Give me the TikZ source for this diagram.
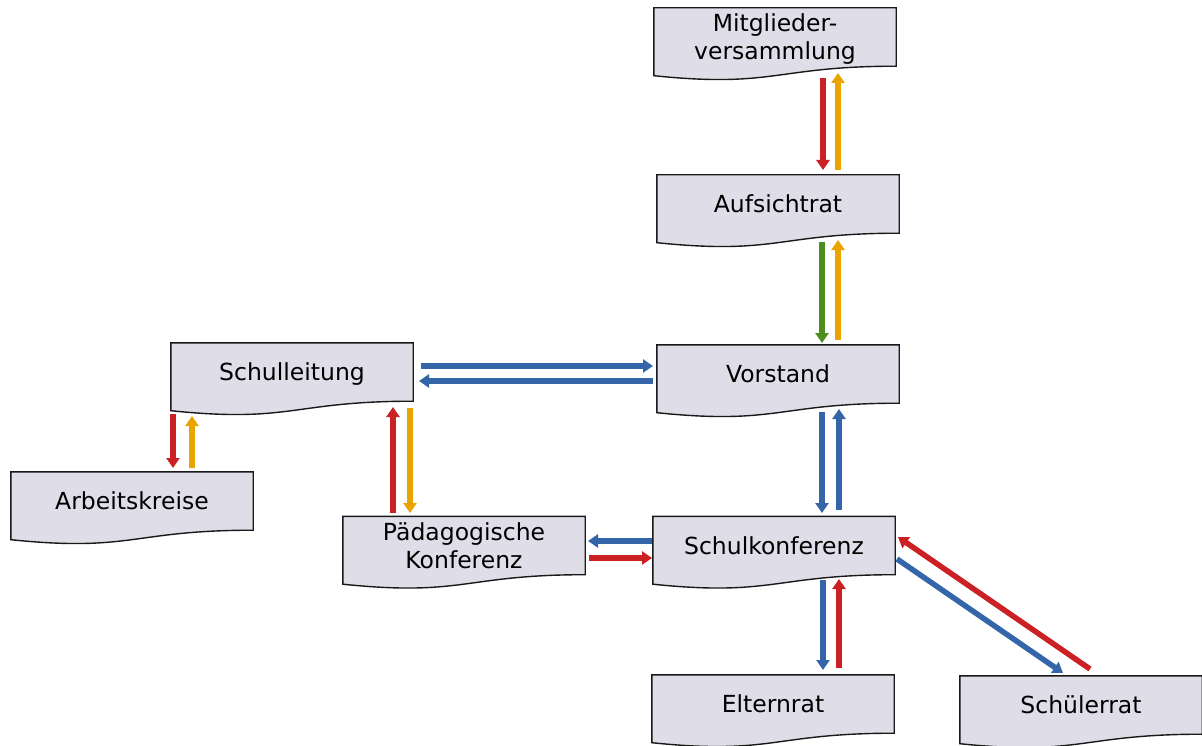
\documentclass[tikz,border=0pt]{standalone}
\usepackage{fontspec}
\setmainfont{DejaVu Sans}
\usetikzlibrary{arrows.meta,backgrounds}
\definecolor{boxfill}{RGB}{222,221,232}
\definecolor{boxline}{RGB}{25,25,25}
\definecolor{cred}{RGB}{203,32,36}
\definecolor{corange}{RGB}{234,164,0}
\definecolor{cgreen}{RGB}{78,142,28}
\definecolor{cblue}{RGB}{52,101,168}
\tikzset{
  docnode/.style={rectangle, draw=none, minimum width=242pt, minimum height=58pt,
    inner sep=0pt, font=\fontsize{23.5}{28}\selectfont, text height=17pt, text depth=0pt},
  docnodetwo/.style={docnode, align=center, text height=45pt, text depth=0pt},
  docline/.style={draw=boxline, fill=boxfill, line width=1.4pt, line join=miter},
  conn/.style={line width=5.5pt, -{Triangle[width=13pt,length=10pt]}},
  redc/.style={conn, draw=cred, fill=cred},
  orangec/.style={conn, draw=corange, fill=corange},
  greenc/.style={conn, draw=cgreen, fill=cgreen},
  bluec/.style={conn, draw=cblue, fill=cblue}
}
\newcommand\docshape[1]{%
  \filldraw[docline] (#1.north west) -- (#1.north east) -- (#1.south east)
    .. controls (#1.south) and ([yshift=-22pt]#1.south) .. ([yshift=-9.5pt]#1.south west) -- cycle;}
\begin{document}
\begin{tikzpicture}[x=1pt,y=-1pt]
\useasboundingbox (0,0) rectangle (1202,746);
% nodes
\node[docnodetwo] (M)  at (775,37)    {Mitglieder-\\versammlung};
\node[docnode]    (A)  at (778,204)   {Aufsichtrat};
\node[docnode]    (V)  at (778,374)   {Vorstand};
\node[docnode]    (SL) at (292,372)   {Schulleitung};
\node[docnode]    (AK) at (132,501)   {Arbeitskreise};
\node[docnodetwo] (PK) at (464,545.5) {Pädagogische\\Konferenz};
\node[docnode]    (SK) at (774,545.5) {Schulkonferenz};
\node[docnode]    (E)  at (773,704)   {Elternrat};
\node[docnode]    (SR) at (1081,705)  {Schülerrat};
\begin{scope}[on background layer]
\docshape{M}\docshape{A}\docshape{V}\docshape{SL}\docshape{AK}
\docshape{PK}\docshape{SK}\docshape{E}\docshape{SR}
\end{scope}
% connectors
\draw[redc]    ([shift={(48,41)}]M.center)     -- ([shift={(45,-34)}]A.center);
\draw[orangec] ([shift={(60,-34)}]A.center)    -- ([shift={(63,36)}]M.center);
\draw[greenc]  ([shift={(44,38)}]A.center)     -- ([shift={(44,-31)}]V.center);
\draw[orangec] ([shift={(60,-34)}]V.center)    -- ([shift={(60,36)}]A.center);
\draw[bluec]   ([shift={(129,-6)}]SL.center)   -- ([shift={(-125,-8)}]V.center);
\draw[bluec]   ([shift={(-125,7)}]V.center)    -- ([shift={(127,9)}]SL.center);
\draw[redc]    ([shift={(-119,42)}]SL.center)  -- ([shift={(41,-33)}]AK.center);
\draw[orangec] ([shift={(60,-33)}]AK.center)   -- ([shift={(-100,44)}]SL.center);
\draw[redc]    ([shift={(-71,-32.5)}]PK.center) -- ([shift={(101,35)}]SL.center);
\draw[orangec] ([shift={(118,36)}]SL.center)   -- ([shift={(-54,-32.5)}]PK.center);
\draw[bluec]   ([shift={(44,38)}]V.center)     -- ([shift={(48,-32.5)}]SK.center);
\draw[bluec]   ([shift={(65,-35.5)}]SK.center) -- ([shift={(61,35)}]V.center);
\draw[bluec]   ([shift={(-122,-4.5)}]SK.center) -- ([shift={(124,-4.5)}]PK.center);
\draw[redc]    ([shift={(125,12.5)}]PK.center) -- ([shift={(-122,12.5)}]SK.center);
\draw[bluec]   ([shift={(49,34.5)}]SK.center)  -- ([shift={(50,-34)}]E.center);
\draw[redc]    ([shift={(66,-36)}]E.center)    -- ([shift={(65,33.5)}]SK.center);
\draw[bluec]   ([shift={(123,13.5)}]SK.center) -- ([shift={(-18,-32)}]SR.center);
\draw[redc]    ([shift={(9,-36)}]SR.center)    -- ([shift={(124,-8.5)}]SK.center);
\end{tikzpicture}
\end{document}
